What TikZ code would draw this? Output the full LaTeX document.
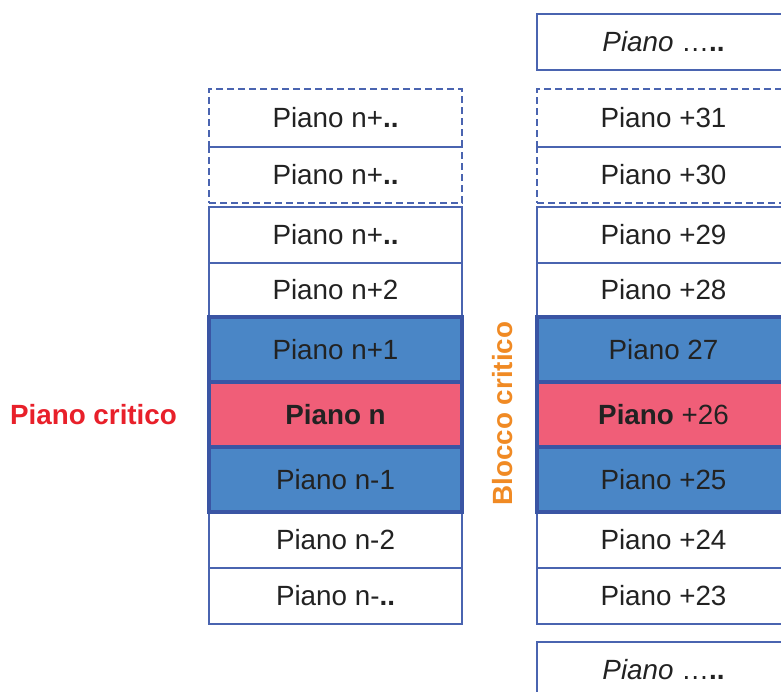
\documentclass[tikz,border=0pt]{standalone}
\usepackage{fontspec}
\setmainfont{Liberation Sans}
\definecolor{edge}{HTML}{4A64B0}
\definecolor{edgedark}{HTML}{3A55A4}
\definecolor{blockblue}{HTML}{4A86C6}
\definecolor{critpink}{HTML}{F05E78}
\definecolor{txt}{HTML}{222222}
\definecolor{critred}{HTML}{E8202A}
\definecolor{critorange}{HTML}{F08A24}
\begin{document}
\begin{tikzpicture}[x=1pt,y=-1pt,
  lab/.style={font=\fontsize{27.8}{32}\selectfont, text=txt},
  cell/.style={draw=edge, line width=1.4pt, minimum width=253pt, inner sep=0pt, lab},
  dashcell/.style={cell, dash pattern=on 7pt off 4pt},
  blockcell/.style={cell, draw=edgedark, line width=4.5pt, fill=blockblue},
  critcell/.style={blockcell, fill=critpink},
  sidelabel/.style={font=\fontsize{27.8}{32}\selectfont\bfseries}
]
\useasboundingbox (0,0) rectangle (781,691);

% left column (floors around n)
\node[dashcell, minimum height=58pt] (l1) at (335.5,118) {Piano n+\textbf{..}};
\node[dashcell, minimum height=56pt] (l2) at (335.5,175) {Piano n+\textbf{..}};
\node[cell, minimum height=56pt] (l3) at (335.5,235) {Piano n+\textbf{..}};
\node[cell, minimum height=54pt] (l4) at (335.5,290) {Piano n+2};
\node[cell, minimum height=56pt] (l8) at (335.5,540) {Piano n-2};
\node[cell, minimum height=56pt] (l9) at (335.5,596) {Piano n-\textbf{..}};

% right column (numbered floors)
\node[cell, minimum height=56pt] (r0) at (663.5,42) {\textit{Piano} …\textbf{..}};
\node[dashcell, minimum height=58pt] (r1) at (663.5,118) {Piano +31};
\node[dashcell, minimum height=56pt] (r2) at (663.5,175) {Piano +30};
\node[cell, minimum height=56pt] (r3) at (663.5,235) {Piano +29};
\node[cell, minimum height=54pt] (r4) at (663.5,290) {Piano +28};
\node[cell, minimum height=56pt] (r8) at (663.5,540) {Piano +24};
\node[cell, minimum height=56pt] (r9) at (663.5,596) {Piano +23};
\node[cell, minimum height=56pt] (r10) at (663.5,670) {\textit{Piano} …\textbf{..}};

% critical block
\node[blockcell, minimum height=65pt] (l5) at (335.5,349.5) {Piano n+1};
\node[blockcell, minimum height=65pt] (l7) at (335.5,479.5) {Piano n-1};
\node[critcell, minimum height=65pt] (l6) at (335.5,414.5) {\textbf{Piano n}};
\node[blockcell, minimum height=65pt] (r5) at (663.5,349.5) {Piano 27};
\node[blockcell, minimum height=65pt] (r7) at (663.5,479.5) {Piano +25};
\node[critcell, minimum height=65pt] (r6) at (663.5,414.5) {\textbf{Piano} +26};

% side labels
\node[sidelabel, text=critred] (pc) at (93.5,415) {Piano critico};
\node[sidelabel, text=critorange, rotate=90] (bc) at (503,413.5) {Blocco critico};
\end{tikzpicture}
\end{document}
